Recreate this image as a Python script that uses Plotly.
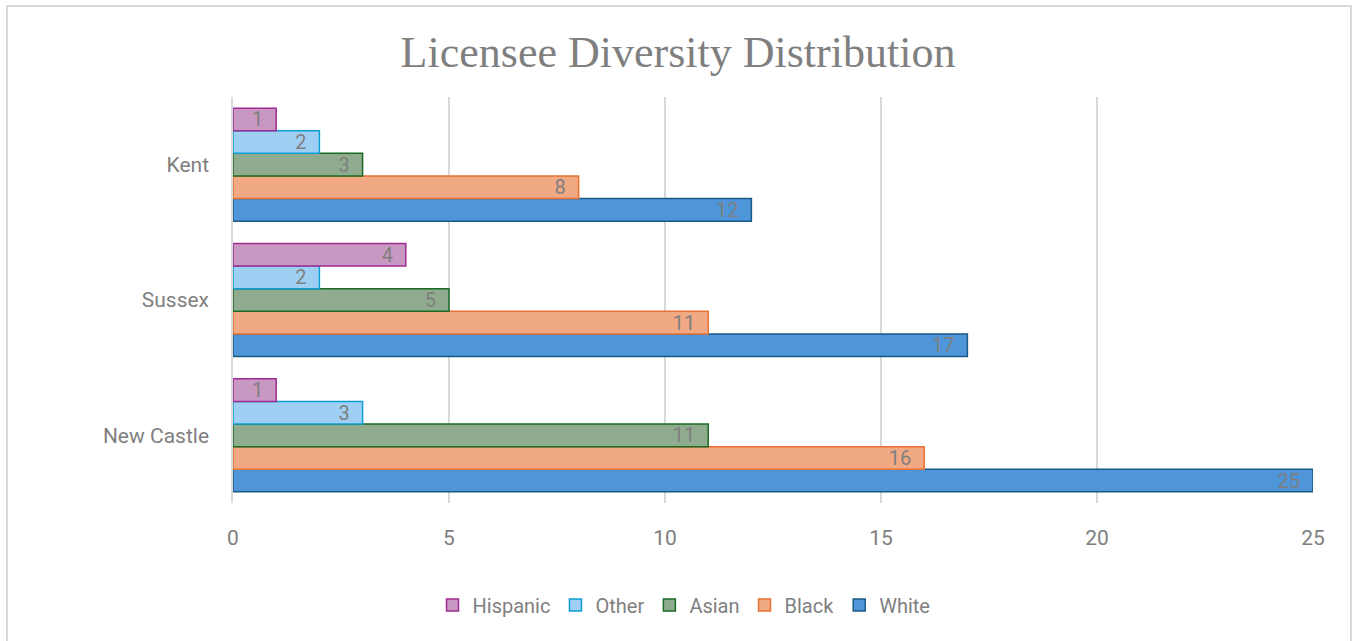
import plotly.graph_objects as go

counties = ["New Castle", "Sussex", "Kent"]
series_names = ["White", "Black", "Asian", "Other", "Hispanic"]
white = [25, 17, 12]
black = [16, 11, 8]
asian = [11, 5, 3]
other = [3, 2, 2]
hispanic = [1, 4, 1]
x_ticks = [0, 5, 10, 15, 20, 25]

values = [white, black, asian, other, hispanic]
fills = ["#4e95d9", "#f1a983", "#8fac8f", "#9fd0f3", "#c898c2"]
borders = ["#1a5a84", "#e97132", "#196b24", "#0f9ed5", "#a02b93"]

fig = go.Figure()
for name, vals, fc, bc in zip(series_names, values, fills, borders):
    fig.add_trace(go.Bar(
        y=counties, x=vals, name=name, orientation="h",
        marker=dict(color=fc, line=dict(color=bc, width=1.5)),
        text=vals, texttemplate="%{x}\u00a0\u00a0", textposition="inside",
        insidetextanchor="end", textangle=0, constraintext="none",
        textfont=dict(color="#7f7f7f", size=20, family="Roboto"),
        cliponaxis=False,
    ))

L, R, T, B = 233, 1313, 97, 503
W, H = 1353, 641
pw, ph = R - L, B - T

def px(x):
    return (x - L) / pw

def py(y):
    return (B - y) / ph

fig.add_shape(type="rect", xref="paper", yref="paper",
              x0=px(7), x1=px(1351), y0=py(660), y1=py(6),
              line=dict(color="#d9d9d9", width=2), fillcolor="rgba(0,0,0,0)", layer="below")

fig.update_layout(
    width=W, height=H,
    margin=dict(l=L, r=W - R, t=T, b=H - B),
    barmode="group", bargap=0.165, bargroupgap=0,
    paper_bgcolor="white", plot_bgcolor="white",
    title=dict(text="Licensee Diversity Distribution", x=px(678), xref="paper", xanchor="center",
               y=1 - 52 / H, yanchor="middle",
               font=dict(family="Liberation Serif", size=44, color="#7f7f7f")),
    xaxis=dict(range=[0, 25], tickvals=x_ticks, showgrid=True, gridcolor="#d9d9d9",
               gridwidth=1.5, zeroline=False, showline=False,
               tickfont=dict(family="Roboto", size=21, color="#7f7f7f"), ticklen=0, ticks="",
               ticklabelstandoff=20),
    yaxis=dict(showgrid=False, zeroline=False, showline=True, linecolor="#d9d9d9", linewidth=1.5,
               tickfont=dict(family="Roboto", size=21, color="#7f7f7f"), ticks="",
               ticklabelstandoff=18),
    legend=dict(orientation="h", x=px(684), xanchor="center", y=py(605), yanchor="middle",
                traceorder="reversed", itemwidth=30,
                font=dict(family="Roboto", size=20, color="#7f7f7f")),
    showlegend=True,
)
fig.write_html("out.html", config={"displayModeBar": False},
               post_script="document.body.style.margin='0';document.body.style.padding='0';")
